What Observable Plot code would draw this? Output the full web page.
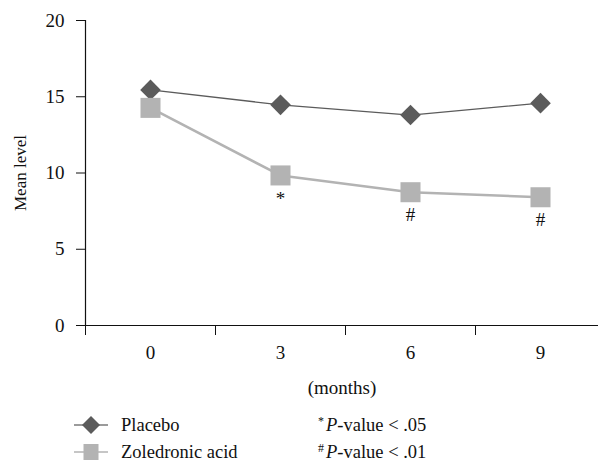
<!DOCTYPE html>
<html><head><meta charset="utf-8">
<script src="https://cdn.jsdelivr.net/npm/d3@7"></script>
<script src="https://cdn.jsdelivr.net/npm/@observablehq/plot@0.6"></script>
</head><body style="margin:0;background:#fff;font-family:'Liberation Serif';color:#111;"><div id="wrap" style="position:relative;width:598px;height:466px;font-family:'Liberation Serif';"><div id="chart"></div><div id="legend" style="position:absolute;left:0;top:400px;width:598px;height:66px;font-size:18.5px;font-family:'Liberation Serif';"></div></div>
<script>
const months = [0, 3, 6, 9];
const placebo = [15.45, 14.47, 13.8, 14.58];
const zoledronic = [14.27, 9.84, 8.74, 8.41];
const significance = ["", "*", "#", "#"];
const yTicks = [0, 5, 10, 15, 20];
const seriesNames = ["Placebo", "Zoledronic acid"];
const notes = [["*", "-value < .05"], ["#", "-value < .01"]];

const serif = "Liberation Serif";
const darkC = "#5b5b5b", lightC = "#b3b3b3";
const step = months[1] - months[0];
const bounds = months.map(m => m - step / 2);
const pRows = months.map((m, i) => ({month: m, value: placebo[i]}));
const zRows = months.map((m, i) => ({month: m, value: zoledronic[i], sig: significance[i]}));

const chart = Plot.plot({
  width: 598, height: 400,
  marginLeft: 85, marginRight: 0, marginTop: 20, marginBottom: 75,
  style: {fontFamily: serif, fontSize: "19px", color: "#111", background: "#fff"},
  x: {domain: [bounds[0], 9 + 58 * step / 130]},
  y: {domain: [0, 20]},
  marks: [
    Plot.ruleY([0], {stroke: "#111", strokeWidth: 1.2}),
    Plot.ruleX([bounds[0]], {stroke: "#111", strokeWidth: 1.2}),
    Plot.axisY({ticks: yTicks, tickSize: 9, tickPadding: 12, label: null, fontSize: 19, stroke: "#111"}),
    Plot.axisY({ticks: [], tickSize: 0, label: "Mean level", labelArrow: "none", labelAnchor: "center", labelOffset: 72, fontSize: 17}),
    Plot.axisX({ticks: months, tickSize: 0, tickPadding: 20, label: null, fontSize: 19}),
    Plot.axisX({ticks: bounds, tickSize: 10, tickFormat: () => "", label: "(months)", labelArrow: "none", labelAnchor: "center", labelOffset: 68, fontSize: 19, stroke: "#111"}),
    Plot.line(pRows, {x: "month", y: "value", stroke: darkC, strokeWidth: 1.3}),
    Plot.line(zRows, {x: "month", y: "value", stroke: lightC, strokeWidth: 2.6}),
    Plot.dot(pRows, {x: "month", y: "value", symbol: "diamond2", r: 9.3, fill: darkC, stroke: "none"}),
    Plot.dot(zRows, {x: "month", y: "value", symbol: "square", r: 11.3, fill: lightC, stroke: "none"}),
    Plot.text(zRows, {x: "month", y: "value", text: "sig", dy: 23, fontSize: 19, fill: "#111"})
  ]
});
chart.setAttribute("font-family", serif);
chart.style.fontFamily = serif;
chart.querySelectorAll("g, text").forEach(t => { if (t.getAttribute("font-family")) t.setAttribute("font-family", serif); t.style.fontFamily = serif; });
document.getElementById("chart").appendChild(chart);

const legend = document.getElementById("legend");
const symbols = [
  {color: darkC, line: "#7a7a7a", shape: '<path d="M0,-9L9,0L0,9L-9,0Z"/>'},
  {color: lightC, line: lightC, shape: '<rect x="-7.5" y="-8" width="15" height="16"/>'}
];
seriesNames.forEach((name, i) => {
  const d = document.createElement("div");
  d.style.cssText = `position:absolute;display:flex;align-items:center;height:24px;left:74px;top:${13 + i * 27}px;font-family:'Liberation Serif';`;
  d.innerHTML = `<svg width="34" height="20" viewBox="-17 -10 34 20" style="margin-right:13px"><line x1="-17" x2="17" y1="0" y2="0" stroke="${symbols[i].line}" stroke-width="1.5"/><g fill="${symbols[i].color}">${symbols[i].shape}</g></svg><span style="font-family:'Liberation Serif'">${name}</span>`;
  legend.appendChild(d);
});
notes.forEach((n, i) => {
  const d = document.createElement("div");
  d.style.cssText = `position:absolute;display:flex;align-items:center;height:24px;left:318px;top:${13 + i * 27}px;font-family:'Liberation Serif';`;
  d.innerHTML = `<span style="font-family:'Liberation Serif'"><sup style="font-size:12px;position:relative;top:-1px;vertical-align:top;margin-right:2px">${n[0]}</sup><i>P</i>${n[1]}</span>`;
  legend.appendChild(d);
});
</script></body></html>
